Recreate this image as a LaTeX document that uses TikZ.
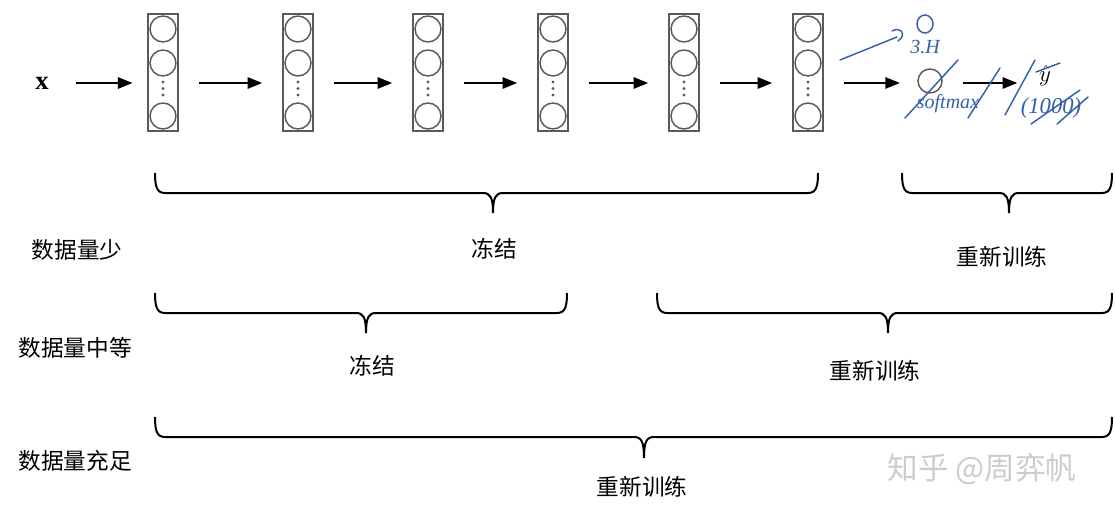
\documentclass[tikz,border=0pt]{standalone}
\usepackage{fontspec}
\setmainfont{Liberation Serif}
\newfontfamily\cjk{Noto Sans CJK SC}
\usetikzlibrary{arrows.meta}

\definecolor{pen}{RGB}{52,96,168}
\definecolor{boxgray}{RGB}{90,90,90}
\tikzset{every picture/.style={line width=0.75pt}}

\begin{document}
\begin{tikzpicture}[x=0.75pt,y=0.75pt,yscale=-1,xscale=1,
	layer/.style={draw=boxgray, line width=1.2pt, minimum width=22.5pt, minimum height=87.75pt, inner sep=0pt},
	unit/.style={circle, draw=boxgray, line width=1.1pt, minimum size=19.5pt, inner sep=0pt},
	arr/.style={-{Triangle[length=11pt,width=8.5pt]}, line width=1.5pt, shorten <=15pt, shorten >=15pt},
	bracket/.style={line width=1.5pt},
	lbl/.style={font=\cjk\fontsize{17}{20}\selectfont, inner sep=0pt},
	hand/.style={draw=pen, line width=1.1pt, line cap=round},
	handtxt/.style={text=pen, font=\itshape\fontsize{15}{16}\selectfont, inner sep=0pt}]
	\useasboundingbox (0,0) rectangle (1115,517);
	
	% Input
	\node [font=\bfseries\fontsize{20}{20}\selectfont, inner sep=0pt] (xin) at (42,83) {x};
	
	%Shape: Layers
	\foreach \n/\cx in {1/163,2/298,3/428,4/553,5/684,6/808}{
		\node [layer] (l\n) at (\cx,72.5) {};
		\node [unit] (l\n-a) at (\cx,29) {};
		\node [unit] (l\n-b) at (\cx,63) {};
		\node [unit] (l\n-c) at (\cx,116) {};
		\fill [boxgray] (\cx,82) circle (1.6) (\cx,88.5) circle (1.6) (\cx,95) circle (1.6);
	}
	
	% Output unit and prediction
	\node [unit, minimum size=18pt] (sm) at (930,81) {};
	\node [font=\fontsize{17}{17}\selectfont, inner sep=0pt] (yhat) at (1045,76) {$\hat{y}$};
	
	%Straight Lines: arrows
	\draw [arr, shorten <=20pt, shorten >=11pt] (xin.east) -- (l1.west |- xin);
	\foreach \a/\b in {1/2,2/3,3/4,4/5,5/6}{
		\draw [arr] (l\a.east |- xin) -- (l\b.west |- xin);
	}
	\draw [arr, shorten >=13pt] (l6.east |- xin) -- (sm.west |- xin);
	\draw [arr, shorten >=16pt] (sm.east |- xin) -- (yhat.west |- xin);
	
	%Shape: Brace, row 1
	\draw [bracket] (155,173) .. controls (155,187) and (157,193) .. (165,193) -- (483,193) .. controls (490,193) and (493,197) .. (493,213) .. controls (493,197) and (496,193) .. (503,193) -- (808,193) .. controls (816,193) and (818,187) .. (818,173) ;
	\draw [bracket] (902,173) .. controls (902,187) and (904,193) .. (912,193) -- (999,193) .. controls (1006,193) and (1009,197) .. (1009,213) .. controls (1009,197) and (1012,193) .. (1019,193) -- (1102,193) .. controls (1110,193) and (1112,187) .. (1112,173) ;
	%Shape: Brace, row 2
	\draw [bracket] (155,293) .. controls (155,307) and (157,313) .. (165,313) -- (356,313) .. controls (363,313) and (366,317) .. (366,333) .. controls (366,317) and (369,313) .. (376,313) -- (557,313) .. controls (565,313) and (567,307) .. (567,293) ;
	\draw [bracket] (657,293) .. controls (657,307) and (659,313) .. (667,313) -- (878,313) .. controls (885,313) and (888,317) .. (888,333) .. controls (888,317) and (891,313) .. (898,313) -- (1102,313) .. controls (1110,313) and (1112,307) .. (1112,293) ;
	%Shape: Brace, row 3
	\draw [bracket] (155,417) .. controls (155,431) and (157,437) .. (165,437) -- (634,437) .. controls (641,437) and (644,441) .. (644,458) .. controls (644,441) and (647,437) .. (654,437) -- (1102,437) .. controls (1110,437) and (1112,431) .. (1112,417) ;
	
	% Text Node: rows
	\node [lbl] (few) at (77,250) {数据量少};
	\node [lbl] (mid) at (75,348) {数据量中等};
	\node [lbl] (full) at (75,461) {数据量充足};
	% Text Node: brace labels
	\node [lbl] (frz1) at (494,249) {冻结};
	\node [lbl] (rt1) at (1002,257) {重新训练};
	\node [lbl] (frz2) at (372,366) {冻结};
	\node [lbl] (rt2) at (875,371) {重新训练};
	\node [lbl] (rt3) at (642,487) {重新训练};
	
	% Handwritten notes
	\draw [hand] (925,24) ellipse (8 and 9) ;
	\node [handtxt] (soft1) at (925,47) {3.H};
	\draw [hand] (840,60) -- (897,37) ;
	\draw [hand] (892,31) .. controls (901,26) and (907,35) .. (898,41) ;
	\draw [hand] (905,118) -- (958,60) ;
	\draw [hand] (968,118) -- (1000,68) ;
	\draw [hand] (1005,115) -- (1035,60) ;
	\draw [hand] (1036,72) -- (1060,63) ;
	\node [handtxt] (soft2) at (948,104) {softmax};
	\node [handtxt, font=\itshape\fontsize{17}{18}\selectfont] (cls) at (1051,108) {(1000)};
	\draw [hand] (1031,124) -- (1080,90) ;
	\draw [hand] (1057,124) -- (1088,97) ;
	
	% Text Node: watermark
	\node [font=\cjk\fontsize{23}{23}\selectfont, text=black!20, inner sep=0pt] (mark) at (982,469) {知乎 @周弈帆};
\end{tikzpicture}
\end{document}
